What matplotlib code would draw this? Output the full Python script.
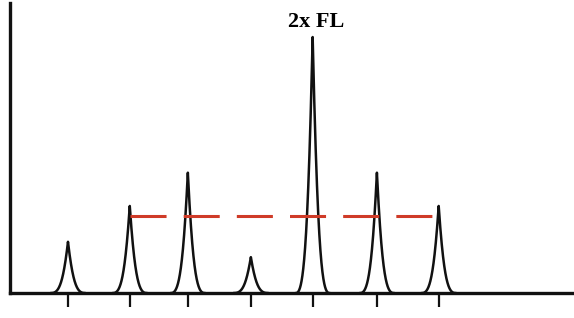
import matplotlib
matplotlib.use("Agg")
import matplotlib.pyplot as plt
import numpy as np

# Peak positions (mode number) and relative heights
positions = [1, 2, 2.94, 3.96, 4.96, 6.0, 7.0]
heights = [0.20, 0.34, 0.47, 0.14, 1.0, 0.47, 0.34]
tick_positions = [1, 2, 2.94, 3.96, 4.96, 6.0, 7.0]

# Reference level drawn as a dashed red line, from peak 2 to peak 7
ref_level = 0.30
ref_start, ref_end = 2, 7
label = "2x FL"

fig = plt.figure(figsize=(5.74, 3.18), dpi=100)
ax = fig.add_axes([10 / 574, 25 / 318, 564 / 574, 290 / 318])

# Each peak is a sharp cusp that flares out into the baseline
decay = 0.097
half_width = 0.267
for pos, h in zip(positions, heights):
    dx = np.linspace(-half_width, half_width, 801)
    taper = (1 - (dx / half_width) ** 2) ** 2
    y = h * np.exp(-np.abs(dx) / decay) * taper
    ax.plot(pos + dx, y, color="#111111", lw=1.8)

ax.hlines(ref_level, ref_start, ref_end, color="#cf3b28", lw=2.2,
          linestyle=(0, (11.8, 5.6)))

ax.set_xlim(0.0615, 9.19)
ax.set_ylim(0, 1.133)

for side in ["top", "right"]:
    ax.spines[side].set_visible(False)
for side in ["left", "bottom"]:
    ax.spines[side].set_linewidth(2.4)
    ax.spines[side].set_color("#111111")

ax.set_xticks(tick_positions)
ax.set_xticklabels([])
ax.set_yticks([])
ax.tick_params(axis="x", direction="out", length=10, width=1.6, color="#111111")

fig.text(316 / 574, 1 - 27 / 318, label, ha="center", va="baseline",
         fontsize=16, fontweight="bold", family="Liberation Serif")

fig.savefig("out.png", dpi=100)
